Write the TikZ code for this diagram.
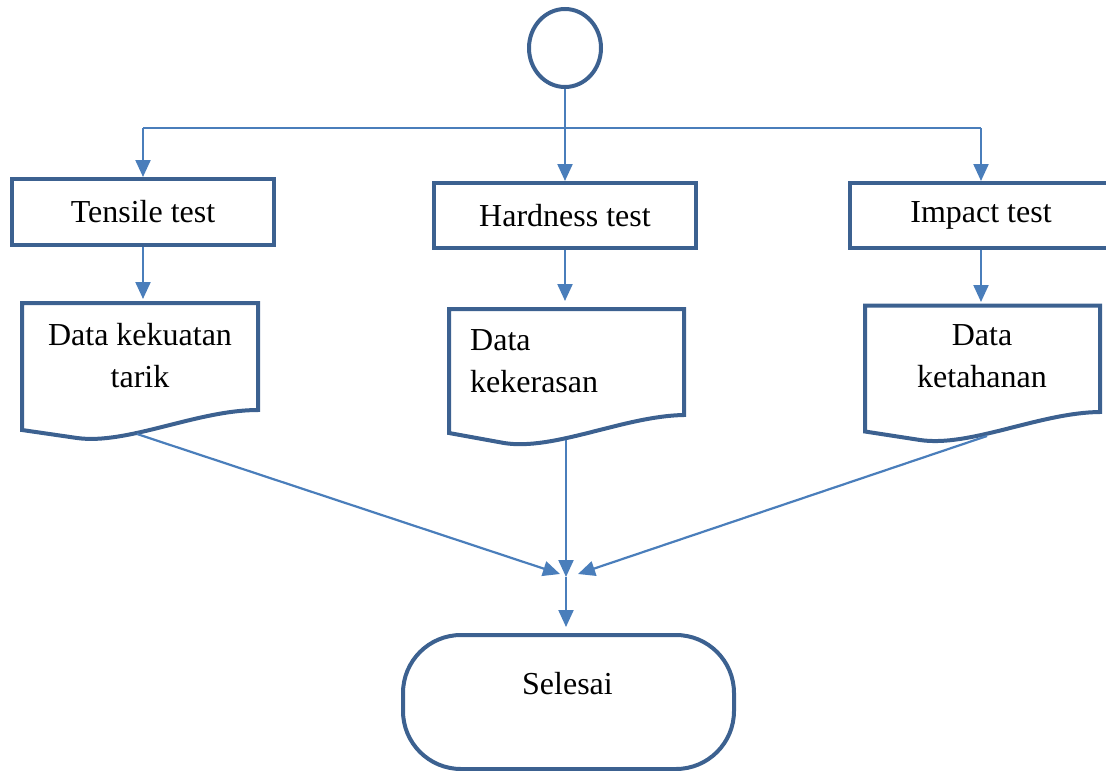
\documentclass[tikz,border=0pt]{standalone}
\usepackage{fontspec}
\setmainfont{Liberation Serif}
\usetikzlibrary{arrows.meta,shapes.geometric}
\definecolor{bordblue}{HTML}{3C6190}
\definecolor{lineblue}{HTML}{4A7EBB}
\begin{document}
\begin{tikzpicture}[x=1pt,y=-1pt,
  txt/.style={font=\fontsize{32}{42}\selectfont, inner sep=0pt},
  procbox/.style={txt, draw=bordblue, line width=4pt, minimum width=262pt, minimum height=65pt},
  docshape/.style={draw=bordblue, line width=4pt, line join=miter},
  flow/.style={draw=lineblue, line width=2.2pt, -{Triangle[length=17pt,width=15pt]}},
  flowline/.style={draw=lineblue, line width=2.2pt}]
\useasboundingbox (0,0) rectangle (1106,771);

% start
\node[ellipse, draw=bordblue, line width=4pt, minimum width=72pt, minimum height=78pt, inner sep=0pt] (start) at (565,48) {};

% process boxes
\node[procbox, minimum height=65.5pt] (b1) at (143,211.75) {Tensile test};
\node[procbox] (b2) at (565,215.5) {Hardness test};
\node[procbox] (b3) at (981,215.5) {Impact test};

% documents
\draw[docshape] (22,303) -- (258,303) -- (258,410) .. controls (197,410) and (127,445) .. (77,438) -- (22,430) -- cycle;
\draw[docshape] (449,309) -- (684,309) -- (684,415) .. controls (624,416) and (554,451) .. (504,443) -- (449,433) -- cycle;
\draw[docshape] (865,305.5) -- (1100,305.5) -- (1100,412) .. controls (1040,412.5) and (970,447.5) .. (920,440) -- (865,431.5) -- cycle;

\node[txt, align=center, anchor=north] (t1) at (140,323) {Data kekuatan\\tarik};
\node[txt, align=left, anchor=north west] (t2) at (470,329) {Data\\kekerasan};
\node[txt, align=center, anchor=north] (t3) at (982,324) {Data\\ketahanan};

% end
\node[draw=bordblue, line width=4pt, rounded corners=58pt, minimum width=331pt, minimum height=134pt, inner sep=0pt] (end) at (568.5,702) {};
\node[txt, anchor=base] (endtxt) at (567.5,694) {Selesai};

% coordinates
\coordinate (split) at (565,128);
\coordinate (d1n) at (142,299);
\coordinate (d2n) at (566,301);
\coordinate (d3n) at (982,302);
\coordinate (d1s) at (137,434);
\coordinate (d2s) at (566,440);
\coordinate (d3s) at (987,436);
\coordinate (m) at (566,577);
\coordinate (mL) at (560,574);
\coordinate (mR) at (578,574);

% connectors
\draw[flowline] (b1.north |- split) -- (b3.north |- split);
\draw[flow] (start.south) -- (b2.north);
\draw[flow] (b1.north |- split) -- (b1.north);
\draw[flow] (b3.north |- split) -- (b3.north);
\draw[flow] (b1.south) -- (b1.south |- d1n);
\draw[flow] (b2.south) -- (b2.south |- d2n);
\draw[flow] (b3.south) -- (b3.south |- d3n);
\draw[flow] (d1s) -- (mL);
\draw[flow] (d2s) -- (m);
\draw[flow] (d3s) -- (mR);
\draw[flow, shorten >=6pt] (m) -- (m |- end.north);
\end{tikzpicture}
\end{document}
